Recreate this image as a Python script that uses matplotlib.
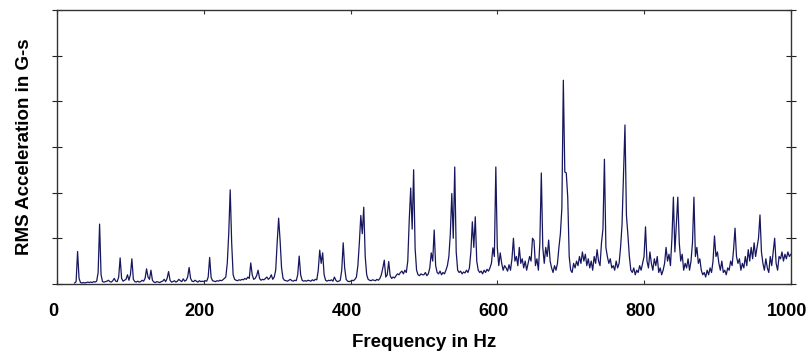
# -*- coding:utf-8 -*-

"""RMS acceleration spectrum plot"""
import numpy as np
import matplotlib
matplotlib.use('Agg')
import matplotlib.pyplot as plt
from matplotlib.transforms import ScaledTranslation

# spectrum values, one list per 100 Hz band (2 Hz steps)
band_starts = [24, 100, 200, 300, 400, 500, 600, 700, 800, 900]
freq_step = 2

amp_000 = [0.02, 0.05, 0.71, 0.12, 0.03, 0.02, 0.03, 0.02, 0.03, 0.04,
           0.03, 0.04, 0.03, 0.05, 0.04, 0.06, 0.25, 1.31, 0.20, 0.05,
           0.04, 0.05, 0.06, 0.08, 0.05, 0.04, 0.07, 0.12, 0.06, 0.05,
           0.15, 0.57, 0.12, 0.06, 0.08, 0.10, 0.20, 0.08]
amp_100 = [0.20, 0.55, 0.10, 0.05, 0.04, 0.06, 0.04, 0.05, 0.08, 0.06,
           0.12, 0.33, 0.15, 0.10, 0.30, 0.08, 0.04, 0.03, 0.05, 0.04,
           0.03, 0.05, 0.06, 0.10, 0.05, 0.12, 0.27, 0.08, 0.04, 0.05,
           0.07, 0.04, 0.06, 0.10, 0.07, 0.05, 0.11, 0.06, 0.08, 0.15,
           0.36, 0.12, 0.06, 0.05, 0.08, 0.06, 0.04, 0.07, 0.05, 0.06]
amp_200 = [0.05, 0.07, 0.06, 0.15, 0.58, 0.14, 0.07, 0.06, 0.05, 0.07,
           0.06, 0.08, 0.07, 0.09, 0.12, 0.15, 0.45, 1.10, 2.06, 0.90,
           0.20, 0.10, 0.08, 0.07, 0.09, 0.08, 0.10, 0.09, 0.12, 0.10,
           0.15, 0.12, 0.46, 0.20, 0.10, 0.12, 0.18, 0.30, 0.12, 0.08,
           0.10, 0.09, 0.12, 0.15, 0.10, 0.13, 0.20, 0.10, 0.15, 0.30]
amp_300 = [0.90, 1.44, 0.95, 0.35, 0.12, 0.08, 0.07, 0.06, 0.08, 0.10,
           0.07, 0.06, 0.08, 0.07, 0.20, 0.61, 0.20, 0.08, 0.06, 0.07,
           0.06, 0.08, 0.07, 0.06, 0.09, 0.07, 0.10, 0.09, 0.30, 0.74,
           0.45, 0.68, 0.20, 0.08, 0.06, 0.08, 0.07, 0.09, 0.06, 0.15,
           0.08, 0.05, 0.06, 0.08, 0.30, 0.90, 0.35, 0.10, 0.06, 0.05]
amp_400 = [0.06, 0.08, 0.07, 0.10, 0.15, 0.40, 0.90, 1.50, 1.10, 1.68,
           0.60, 0.20, 0.10, 0.08, 0.07, 0.09, 0.08, 0.07, 0.10, 0.08,
           0.12, 0.20, 0.35, 0.52, 0.15, 0.20, 0.49, 0.18, 0.12, 0.15,
           0.13, 0.18, 0.22, 0.20, 0.25, 0.28, 0.22, 0.30, 0.25, 0.50,
           1.40, 2.10, 1.20, 2.50, 0.78, 0.30, 0.20, 0.18, 0.22, 0.20]
amp_500 = [0.20, 0.25, 0.18, 0.22, 0.35, 0.68, 0.50, 1.18, 0.40, 0.25,
           0.22, 0.28, 0.20, 0.25, 0.22, 0.30, 0.40, 0.60, 1.10, 1.98,
           1.00, 2.56, 0.70, 0.30, 0.25, 0.28, 0.22, 0.26, 0.24, 0.30,
           0.25, 0.35, 0.70, 1.36, 0.80, 1.47, 0.50, 0.30, 0.25, 0.28,
           0.22, 0.30, 0.25, 0.32, 0.28, 0.35, 0.45, 0.79, 0.60, 2.56]
amp_600 = [0.80, 0.40, 0.68, 0.45, 0.30, 0.40, 0.35, 0.28, 0.42, 0.30,
           0.55, 1.00, 0.50, 0.60, 0.40, 0.80, 0.45, 0.55, 0.35, 0.50,
           0.30, 0.45, 0.60, 0.50, 1.00, 0.95, 0.40, 0.55, 0.30, 0.90,
           2.43, 0.80, 0.45, 0.80, 0.60, 0.96, 0.50, 0.35, 0.25, 0.40,
           0.30, 0.45, 0.80, 1.10, 1.66, 4.46, 2.45, 2.43, 1.90, 0.60]
amp_700 = [0.30, 0.25, 0.45, 0.35, 0.50, 0.40, 0.60, 0.45, 0.70, 0.50,
           0.65, 0.40, 0.55, 0.35, 0.50, 0.30, 0.60, 0.45, 0.75, 0.50,
           0.40, 0.90, 1.20, 2.73, 0.80, 0.60, 0.45, 0.55, 0.35, 0.40,
           0.30, 0.50, 0.35, 0.45, 0.80, 1.30, 2.43, 3.48, 1.50, 1.07,
           0.60, 0.30, 0.25, 0.35, 0.20, 0.30, 0.25, 0.40, 0.30, 0.45]
amp_800 = [0.60, 1.25, 0.50, 0.35, 0.70, 0.45, 0.30, 0.55, 0.40, 0.60,
           0.25, 0.35, 0.20, 0.30, 0.45, 0.80, 0.50, 0.65, 0.40, 1.00,
           1.90, 0.70, 1.30, 1.90, 0.90, 0.50, 0.65, 0.30, 0.45, 0.35,
           0.55, 0.30, 0.50, 0.90, 1.90, 0.60, 0.80, 0.45, 0.55, 0.30,
           0.20, 0.25, 0.15, 0.30, 0.20, 0.35, 0.25, 0.50, 1.05, 0.60]
amp_900 = [0.70, 0.45, 0.30, 0.50, 0.25, 0.30, 0.20, 0.35, 0.30, 0.50,
           0.40, 0.75, 1.22, 0.60, 0.45, 0.55, 0.30, 0.45, 0.35, 0.60,
           0.40, 0.75, 0.50, 0.80, 0.55, 0.90, 0.60, 0.80, 1.00, 1.51,
           0.70, 0.45, 0.30, 0.55, 0.35, 0.25, 0.60, 0.40, 0.70, 1.00,
           0.45, 0.30, 0.60, 0.55, 0.70, 0.50, 0.65, 0.55, 0.70, 0.60,
           0.65]

x_ticks = [0, 200, 400, 600, 800, 1000]
y_ticks = [0, 1, 2, 3, 4, 5, 6]

plt.rcParams['font.family'] = ['Liberation Sans', 'DejaVu Sans']
plt.rcParams['font.weight'] = 'bold'

bands = [amp_000, amp_100, amp_200, amp_300, amp_400,
         amp_500, amp_600, amp_700, amp_800, amp_900]
freq = []
amp = []
for start, vals in zip(band_starts, bands):
    for i, v in enumerate(vals):
        freq.append(start + freq_step * i)
        amp.append(v)
freq = np.array(freq)
amp = np.array(amp)

fig = plt.figure(figsize=(8.09, 3.54), dpi=100)
ax = fig.add_axes([0.0705, 0.198, 0.907, 0.774])
ax.plot(freq, amp, color='#17175f', linewidth=0.9)

ax.set_xlim(0, 1000)
ax.set_ylim(0, 6)
ax.set_xticks(x_ticks)
ax.set_yticks(y_ticks)
ax.set_yticklabels([])
ax.tick_params(axis='x', direction='in', length=3, top=True, labelsize=13,
               pad=14, color='#333333')
ax.tick_params(axis='y', direction='inout', length=7, right=True,
               color='#222222')
for sp in ax.spines.values():
    sp.set_color('#333333')
    sp.set_linewidth(1.0)

# tick labels sit a few pixels left of their ticks in the original
shift = ScaledTranslation(-4 / 100, 0, fig.dpi_scale_trans)
for lab in ax.get_xticklabels():
    lab.set_transform(lab.get_transform() + shift)

ax.set_xlabel('Frequency in Hz', fontsize=13.5, fontweight='bold', labelpad=10)
ax.set_ylabel('RMS Acceleration in G-s', fontsize=13.5, fontweight='bold',
              labelpad=10)

fig.savefig('out.png', dpi=100)
